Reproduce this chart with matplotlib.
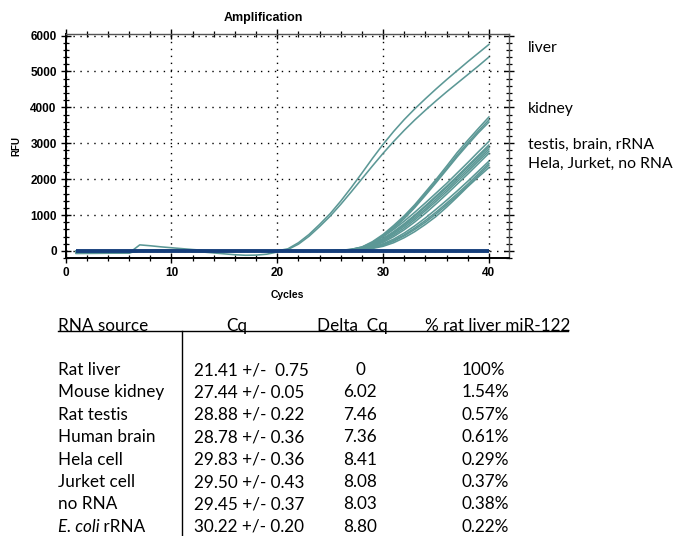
import matplotlib
matplotlib.use("Agg")
import matplotlib.pyplot as plt
from matplotlib.lines import Line2D
from matplotlib.ticker import MultipleLocator

# ---------------- data ----------------
cycles = list(range(1, 41))

liver_a = [-70, -68, -66, -63, -60, -55, 170, 145, 115, 90, 65, 40, 20, 5,
           0, -5, -5, 0, 0, 5,
           60, 230, 460, 740, 1040, 1390, 1770, 2170, 2580, 2970,
           3330, 3660, 3960, 4240, 4510, 4770, 5020, 5270, 5510, 5750]
liver_b = [-40, -40, -38, -38, -35, -35, 20, 25, 30, 25, 10,
           -10, -30, -55, -80, -105, -120, -115, -90, -30,
           40, 190, 410, 680, 970, 1300, 1650, 2010, 2370, 2720,
           3050, 3360, 3650, 3920, 4180, 4430, 4670, 4910, 5150, 5400]
kidney_1 = [-55, -55, -50, -50, -45, -45, 0, 5, 5, 0, 0, 0, -5, -5, 0,
            0, 0, 0, 0, 5, 0, 0, 5, 5, 10,
            20, 45, 110, 260, 460, 710, 980, 1290, 1640, 1990,
            2360, 2740, 3080, 3410, 3730]
kidney_2 = [0, 0, 0, 0, 0, 0, 0, 0, 0, 0, 0, 0, 0, 0, 0,
            0, 0, 0, 0, 0, 0, 0, 5, 5, 8,
            15, 38, 95, 235, 430, 670, 940, 1250, 1590, 1940,
            2300, 2670, 3010, 3340, 3650]
kidney_3 = [-30, -30, -30, -28, -28, -25, 0, 0, 0, 0, 0, 0, 0, 0, 0,
            0, 0, 0, 0, 0, 0, 0, 0, 5, 5,
            12, 30, 80, 210, 400, 630, 900, 1210, 1550, 1900,
            2260, 2620, 2960, 3290, 3590]
testis_brain_rrna_1 = [0, 0, 0, 0, 0, 0, 0, 0, 0, 0, 0, 0, 0, 0, 0,
                       0, 0, 0, 0, 0, 0, 0, 0, 5, 5,
                       15, 45, 110, 230, 400, 600, 830, 1080, 1340, 1610,
                       1880, 2170, 2460, 2760, 3050]
testis_brain_rrna_2 = [-60, -60, -58, -55, -55, -50, 0, 0, 0, 0, 0, 0, 0, 0, 0,
                       0, 0, 0, 0, 0, 0, 0, 0, 5, 5,
                       12, 38, 95, 200, 350, 540, 760, 1000, 1260, 1530,
                       1800, 2080, 2370, 2660, 2950]
testis_brain_rrna_3 = [0, 0, 0, 0, 0, 0, 0, 0, 0, 0, 0, 0, 0, 0, 0,
                       0, 0, 0, 0, 0, 0, 0, 0, 0, 5,
                       10, 30, 80, 175, 320, 510, 730, 970, 1230, 1500,
                       1770, 2050, 2330, 2620, 2900]
testis_brain_rrna_4 = [-45, -45, -42, -42, -40, -40, 0, 0, 0, 0, 0, 0, 0, 0, 0,
                       0, 0, 0, 0, 0, 0, 0, 0, 0, 5,
                       10, 28, 75, 165, 300, 480, 690, 920, 1170, 1440,
                       1710, 1990, 2270, 2560, 2840]
testis_brain_rrna_5 = [0, 0, 0, 0, 0, 0, 0, 0, 0, 0, 0, 0, 0, 0, 0,
                       0, 0, 0, 0, 0, 0, 0, 0, 0, 3,
                       8, 25, 65, 145, 270, 440, 640, 870, 1120, 1380,
                       1650, 1930, 2210, 2500, 2780]
testis_brain_rrna_6 = [0, 0, 0, 0, 0, 0, 0, 0, 0, 0, 0, 0, 0, 0, 0,
                       0, 0, 0, 0, 0, 0, 0, 0, 0, 3,
                       8, 22, 60, 130, 240, 400, 590, 810, 1050, 1310,
                       1580, 1860, 2140, 2430, 2720]
hela_jurket_norna_1 = [0, 0, 0, 0, 0, 0, 0, 0, 0, 0, 0, 0, 0, 0, 0,
                       0, 0, 0, 0, 0, 0, 0, 0, 0, 2,
                       6, 18, 50, 110, 200, 330, 500, 700, 920, 1160,
                       1410, 1670, 1940, 2220, 2500]
hela_jurket_norna_2 = [-50, -50, -48, -48, -45, -45, 0, 0, 0, 0, 0, 0, 0, 0, 0,
                       0, 0, 0, 0, 0, 0, 0, 0, 0, 2,
                       5, 15, 42, 95, 175, 295, 450, 640, 850, 1080,
                       1330, 1590, 1860, 2150, 2440]
hela_jurket_norna_3 = [0, 0, 0, 0, 0, 0, 0, 0, 0, 0, 0, 0, 0, 0, 0,
                       0, 0, 0, 0, 0, 0, 0, 0, 0, 2,
                       5, 14, 38, 85, 160, 270, 420, 600, 800, 1030,
                       1280, 1540, 1810, 2100, 2390]
hela_jurket_norna_4 = [0, 0, 0, 0, 0, 0, 0, 0, 0, 0, 0, 0, 0, 0, 0,
                       0, 0, 0, 0, 0, 0, 0, 0, 0, 0,
                       4, 10, 30, 70, 130, 230, 370, 540, 740, 960,
                       1220, 1500, 1790, 2060, 2320]
baseline_navy = [0, 0, 0, 0, 0, 0, 0, 0, 0, 0, 0, 0, 0, 0, 0, 0, 0, 0, 0, 0,
                 0, 0, 0, 0, 0, 0, 0, 0, 0, 0, 0, 0, 0, 0, 0, 0, 0, 0, 0, 0]

teal_curves = [liver_a, liver_b, kidney_1, kidney_2, kidney_3,
               testis_brain_rrna_1, testis_brain_rrna_2, testis_brain_rrna_3,
               testis_brain_rrna_4, testis_brain_rrna_5, testis_brain_rrna_6,
               hela_jurket_norna_1, hela_jurket_norna_2, hela_jurket_norna_3,
               hela_jurket_norna_4]

x_ticks = [0, 10, 20, 30, 40]
y_ticks = [0, 1000, 2000, 3000, 4000, 5000, 6000]

curve_labels = ["liver", "kidney", "testis, brain, rRNA", "Hela, Jurket, no RNA"]

table_header = ["RNA source", "Cq", "Delta  Cq", "% rat liver miR-122"]
rna_source = ["Rat liver", "Mouse kidney", "Rat testis", "Human brain",
              "Hela cell", "Jurket cell", "no RNA", "E. coli"]
cq_values = ["21.41 +/-  0.75", "27.44 +/- 0.05", "28.88 +/- 0.22",
             "28.78 +/- 0.36", "29.83 +/- 0.36", "29.50 +/- 0.43",
             "29.45 +/- 0.37", "30.22 +/- 0.20"]
delta_cq = ["0", "6.02", "7.46", "7.36", "8.41", "8.08", "8.03", "8.80"]
pct_liver = ["100%", "1.54%", "0.57%", "0.61%", "0.29%", "0.37%",
             "0.38%", "0.22%"]

# ---------------- figure ----------------
W, H = 682, 536
fig = plt.figure(figsize=(W / 100, H / 100), dpi=100)
fig.patch.set_facecolor("white")


def fx(px):
    return px / W


def fy(py):
    return 1 - py / H


ax_l, ax_r, ax_t, ax_b = 65.7, 509.0, 34.5, 258.3
ax = fig.add_axes([fx(ax_l), fy(ax_b), fx(ax_r - ax_l), (ax_b - ax_t) / H])

TEAL = "#5c9896"
NAVY = "#163f7c"

for ys in teal_curves:
    ax.plot(cycles, ys, color=TEAL, lw=1.15, zorder=3)
ax.plot(cycles, baseline_navy, color=NAVY, lw=2.8, zorder=4,
        solid_capstyle="butt")

ax.set_xlim(0, 41.9)
ax.set_ylim(-204, 6028)
ax.set_xticks(x_ticks)
ax.set_yticks(y_ticks)
ax.xaxis.set_minor_locator(MultipleLocator(2))
ax.yaxis.set_minor_locator(MultipleLocator(200))
ax.grid(True, which="major", color="black", linestyle=(0, (1, 4)), lw=1.0,
        zorder=1)
ax.set_axisbelow(True)

tick_font = dict(family="Liberation Sans", weight="bold", size=8.5)
ax.set_xticklabels([str(v) for v in x_ticks], **tick_font)
ax.set_yticklabels([str(v) for v in y_ticks], **tick_font)
ax.tick_params(which="major", direction="inout", length=7, width=1.0,
               top=True, right=True, pad=3, colors="black")
ax.tick_params(which="minor", direction="inout", length=5, width=0.9,
               top=True, right=True)
for s in ["left", "bottom"]:
    ax.spines[s].set_color("black")
    ax.spines[s].set_linewidth(1.4)
for s in ["top", "right"]:
    ax.spines[s].set_color("#555555")
    ax.spines[s].set_linewidth(1.0)

ax.set_xlabel("Cycles", family="Liberation Sans", weight="bold", size=7.5,
              labelpad=8)
ax.set_ylabel("RFU", family="Liberation Sans", weight="bold", size=7,
              labelpad=6)
fig.text(fx(263), fy(18), "Amplification", family="Liberation Sans",
         weight="bold", size=9, ha="center", va="center")

# right-hand curve labels
TFONT = "Lato"
label_y = [48, 109, 145, 164]
for lab, yy in zip(curve_labels, label_y):
    fig.text(fx(528), fy(yy), lab, family=TFONT, size=11.3, ha="left",
             va="center")

# ---------------- table ----------------
FS = 12.3
head_y = 325.8
col_x = [57.6, 237.0, 352.0, 425.3]
fig.text(fx(col_x[0]), fy(head_y), table_header[0], family=TFONT, size=FS,
         ha="left", va="center")
fig.text(fx(col_x[1]), fy(head_y), table_header[1], family=TFONT, size=FS,
         ha="center", va="center")
fig.text(fx(col_x[2]), fy(head_y), table_header[2], family=TFONT, size=FS,
         ha="center", va="center")
fig.text(fx(col_x[3]), fy(head_y), table_header[3], family=TFONT, size=FS,
         ha="left", va="center")

fig.add_artist(Line2D([fx(57.6), fx(568)], [fy(331), fy(331)], color="black",
                      lw=1.0, transform=fig.transFigure))
fig.add_artist(Line2D([fx(181.5), fx(181.5)], [fy(331), fy(536)],
                      color="black", lw=1.0, transform=fig.transFigure))

row_y0, row_dy = 370.0, 22.4
fig.canvas.draw()
renderer = fig.canvas.get_renderer()
for i in range(len(rna_source)):
    yy = fy(row_y0 + i * row_dy)
    if i == len(rna_source) - 1:
        t = fig.text(fx(57.6), yy, rna_source[i], family=TFONT, size=FS,
                     style="italic", ha="left", va="center")
        bb = t.get_window_extent(renderer=renderer)
        fig.text(bb.x1 / W, yy, " rRNA", family=TFONT, size=FS,
                 ha="left", va="center")
    else:
        fig.text(fx(57.6), yy, rna_source[i], family=TFONT, size=FS,
                 ha="left", va="center")
    fig.text(fx(194), yy, cq_values[i], family=TFONT, size=FS,
             ha="left", va="center")
    fig.text(fx(360), yy, delta_cq[i], family=TFONT, size=FS,
             ha="center", va="center")
    fig.text(fx(462), yy, pct_liver[i], family=TFONT, size=FS,
             ha="left", va="center")

fig.savefig("out.png", dpi=100, facecolor="white")
